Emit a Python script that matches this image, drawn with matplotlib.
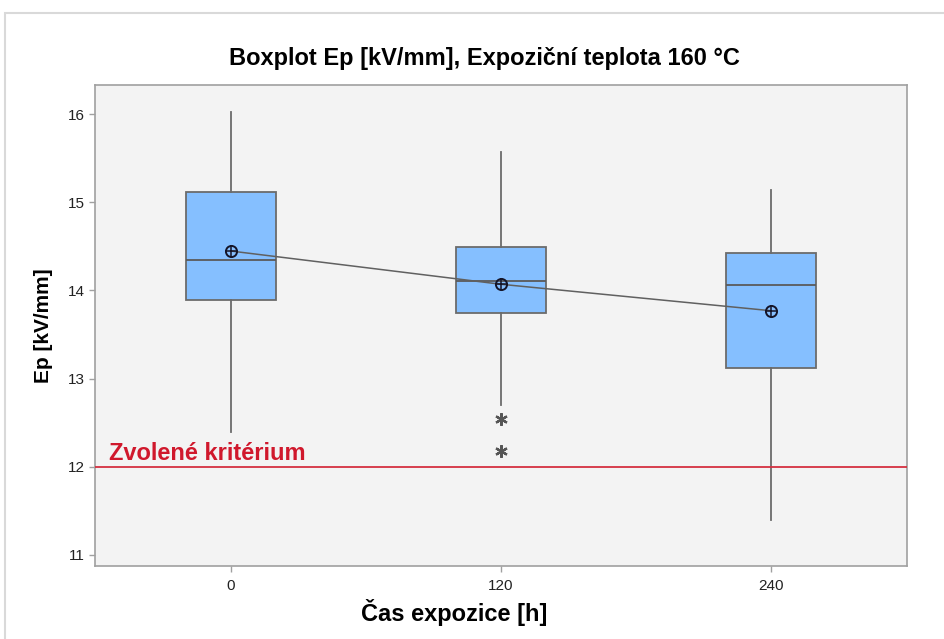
import numpy as np
import matplotlib.pyplot as plt
from matplotlib.patches import Rectangle

plt.rcParams['font.family'] = ['Liberation Sans', 'DejaVu Sans']

# Data
cas = [0, 120, 240]
whisk_lo = [12.39, 12.70, 11.40]
q1 = [13.89, 13.74, 13.12]
median = [14.345, 14.11, 14.06]
q3 = [15.115, 14.49, 14.42]
whisk_hi = [16.02, 15.57, 15.14]
mean = [14.447, 14.07, 13.77]
outliers = [[], [12.54, 12.18], []]
kriterium = 12.0

fig = plt.figure(figsize=(9.45, 6.39), dpi=100)
fig.patch.set_facecolor('white')
# light frame round the figure (cropped in the reference)
fig.add_artist(Rectangle((5 / 945, -0.05), 1.2, 1 - 13 / 639 + 0.05,
                         transform=fig.transFigure, fill=False,
                         edgecolor='#d9d9d9', linewidth=1.5))

ax = fig.add_axes([95 / 945, 1 - 566 / 639, 812 / 945, 481 / 639])
ax.set_facecolor('#f3f3f3')

stats = []
for i in range(len(cas)):
    stats.append(dict(whislo=whisk_lo[i], q1=q1[i], med=median[i], q3=q3[i],
                      whishi=whisk_hi[i], fliers=outliers[i], mean=mean[i]))

ax.bxp(stats, positions=cas, widths=40, patch_artist=True, showcaps=False,
       showmeans=False,
       boxprops=dict(facecolor='#85bfff', edgecolor='#6b6b6b', linewidth=1.3),
       medianprops=dict(color='#5a5a5a', linewidth=1.3),
       whiskerprops=dict(color='#6b6b6b', linewidth=1.3),
       flierprops=dict(marker=(6, 2, 0), markersize=9, markerfacecolor='#555555',
                       markeredgecolor='#555555', markeredgewidth=1.6,
                       linestyle='none'))

# mean connect line with circled-plus symbols
ax.plot(cas, mean, color='#606060', linewidth=1.1, zorder=4)
ax.plot(cas, mean, linestyle='none', marker='o', markersize=8,
        markerfacecolor='none', markeredgecolor='#141428', markeredgewidth=1.4, zorder=5)
ax.plot(cas, mean, linestyle='none', marker='+', markersize=8,
        markeredgecolor='#141428', markeredgewidth=1.1, zorder=5)

ax.axhline(kriterium, color='#d43040', linewidth=1.3, zorder=3)
ax.text(-54, kriterium + 0.02, 'Zvolené kritérium', color='#d0182c',
        fontsize=17, fontweight='bold', va='bottom', ha='left')

ax.set_xlim(-60.4, 300.4)
ax.set_ylim(10.875, 16.33)
ax.set_xticks(cas)
ax.set_xticklabels([str(c) for c in cas])
ax.set_yticks([11, 12, 13, 14, 15, 16])

for s in ax.spines.values():
    s.set_color('#a0a0a0')
    s.set_linewidth(1.2)
ax.tick_params(axis='both', colors='#a0a0a0', labelcolor='#222222',
               labelsize=11, length=4, width=1)
ax.tick_params(axis='x', pad=5)

ax.set_xlabel('Čas expozice [h]', fontsize=17, fontweight='bold')
ax.xaxis.set_label_coords((454 - 95) / 812, -0.068)
ax.set_ylabel('Ep [kV/mm]', fontsize=15, fontweight='bold')
ax.yaxis.set_label_coords(-0.052, 0.5)
fig.text(484 / 945, 1 - 59 / 639, 'Boxplot Ep [kV/mm], Expoziční teplota 160 °C',
         ha='center', va='center', fontsize=17, fontweight='bold')

fig.savefig('out.png', dpi=100)
